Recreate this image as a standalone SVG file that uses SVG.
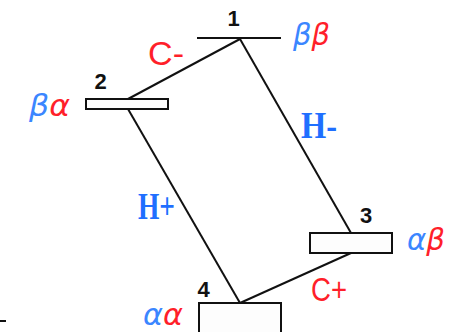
<svg xmlns="http://www.w3.org/2000/svg" width="456" height="332" viewBox="0 0 456 332">
<style>
.num{font-family:"Liberation Sans",Arial,sans-serif;font-weight:bold;font-size:22px;fill:#111;text-anchor:middle}
.gr{font-family:"DejaVu Sans",sans-serif;font-style:italic;font-size:30px}
.cl{font-family:"Liberation Sans",Arial,sans-serif;font-size:34px;fill:#ff1f2a}
.hl{font-family:"Liberation Serif",serif;font-weight:bold;font-size:37px;fill:#1f6fff}
.b{fill:#3b86ff}
.r{fill:#ff1f2a}
.lvl{fill:#fdfdfd;stroke:#111;stroke-width:2}
.edge{stroke:#111;stroke-width:2;fill:none}
</style>
<rect width="456" height="332" fill="#ffffff"/>
<g id="connectors">
<line class="edge" x1="240" y1="39" x2="128" y2="99"/>
<line class="edge" x1="240" y1="39" x2="351" y2="233"/>
<line class="edge" x1="128" y1="109" x2="240" y2="303"/>
<line class="edge" x1="351" y1="253" x2="240" y2="303"/>
<line class="edge" x1="0" y1="321" x2="6" y2="321" stroke-width="1.5"/>
</g>
<g id="node1">
<line class="edge" x1="197" y1="38" x2="281" y2="38"/>
<text class="num" x="233.5" y="26">1</text>
<text class="gr" x="293" y="45" textLength="37" lengthAdjust="spacingAndGlyphs"><tspan class="b">β</tspan><tspan class="r">β</tspan></text>
</g>
<g id="node2">
<rect class="lvl" x="86" y="99" width="82" height="10"/>
<text class="num" x="100.5" y="89">2</text>
<text class="gr" x="29" y="116" textLength="41" lengthAdjust="spacingAndGlyphs"><tspan class="b">β</tspan><tspan class="r">α</tspan></text>
</g>
<g id="node3">
<rect class="lvl" x="310" y="233" width="82" height="20"/>
<text class="num" x="366" y="223">3</text>
<text class="gr" x="407" y="250" textLength="38" lengthAdjust="spacingAndGlyphs"><tspan class="b">α</tspan><tspan class="r">β</tspan></text>
</g>
<g id="node4">
<rect class="lvl" x="199" y="303" width="82" height="40"/>
<text class="num" x="203.5" y="297">4</text>
<text class="gr" x="143" y="325" font-size="27" textLength="40" lengthAdjust="spacingAndGlyphs"><tspan class="b">α</tspan><tspan class="r">α</tspan></text>
</g>
<g id="labels">
<text class="cl" x="148" y="65" textLength="36" lengthAdjust="spacingAndGlyphs">C-</text>
<text class="hl" x="301" y="138" textLength="36" lengthAdjust="spacingAndGlyphs">H-</text>
<text class="hl" x="138" y="219" textLength="37" lengthAdjust="spacingAndGlyphs">H+</text>
<text class="cl" x="311" y="301" textLength="36" lengthAdjust="spacingAndGlyphs">C+</text>
</g>
</svg>
